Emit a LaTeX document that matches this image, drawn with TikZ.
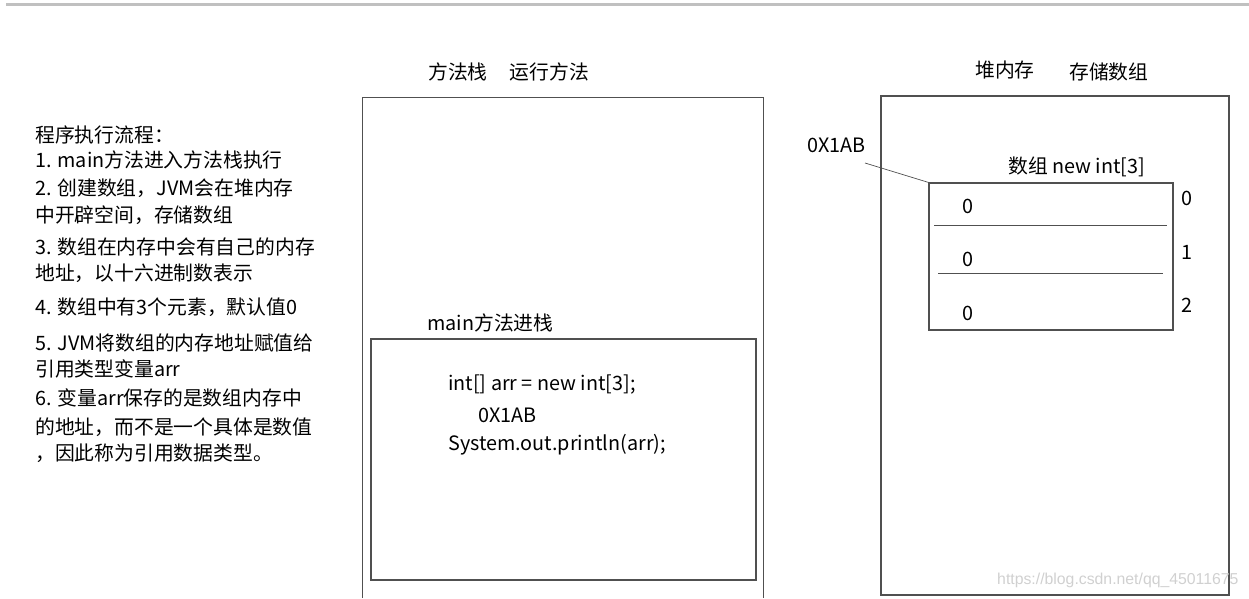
\documentclass[tikz,border=0pt]{standalone}
\usepackage{fontspec}
\setmainfont{Noto Sans CJK SC}
\newfontfamily\wmfont{Liberation Sans}
\usetikzlibrary{positioning}
\definecolor{boxline}{HTML}{505050}
\definecolor{topbar}{HTML}{C0C0C0}
\definecolor{wmgray}{HTML}{D0D0D0}

\begin{document}
\begin{tikzpicture}[x=1pt, y=-1pt, font=\fontsize{19.8}{23}\selectfont,
  box/.style={draw=boxline, line width=1.2pt, inner sep=0pt},
  txt/.style={inner sep=0pt, anchor=west}]
  \useasboundingbox (0,0) rectangle (1249,598);
  \draw[topbar, line width=2.5pt] (6,4.5) -- (1249,4.5);

  % flow text on the left
  \foreach \y/\t in {135/程序执行流程：, 160/1. main方法进入方法栈执行,
      188/2. 创建数组，JVM会在堆内存, 215/中开辟空间，存储数组,
      247/3. 数组在内存中会有自己的内存, 273/地址，以十六进制数表示,
      307/4. 数组中有3个元素，默认值0, 343/5. JVM将数组的内存地址赋值给,
      369/引用类型变量arr, 398/6. 变量arr保存的是数组内存中,
      427/的地址，而不是一个具体是数值, 453/，因此称为引用数据类型。}
    \node[txt] (flow\y) at (35,\y) {\t};

  % method stack
  \node[txt] (stacktitle) at (428,72) {方法栈\hspace{22pt}运行方法};
  \node[inner sep=0pt, minimum width=400pt, minimum height=500pt] (stack) at (563,348) {};
  \draw[boxline, line width=1.2pt] (stack.south west) |- (stack.north east) -- (stack.south east);
  \node[box, minimum width=385pt, minimum height=241pt] (frame) at (563.5,459.5) {};
  \node[txt] (framelabel) at (427,323) {main方法进栈};
  \node[txt] (code1) at (448,385) {int[] arr = new int[3];};
  \node[txt] (code2) at (478,415) {0X1AB};
  \node[txt] (code3) at (448,445) {System.out.println(arr);};

  % heap
  \node[txt] (heaptitle) at (975,70) {堆内存};
  \node[txt] (heapnote) at (1069,72) {存储数组};
  \node[box, minimum width=348pt, minimum height=499pt] (heap) at (1055,345.5) {};
  \node[txt] (addr) at (807,145) {0X1AB};
  \node[box, minimum width=244pt, minimum height=147pt] (arr) at (1051,256.5) {};
  \node[txt] (arrlabel) at (1008,167) {数组 new int[3]};
  \coordinate (addrtail) at (865,163);
  \draw[boxline, line width=0.7pt] (addrtail) -- (arr.north west);
  \draw[boxline, line width=0.9pt] (934,225) -- (1167,225);
  \draw[boxline, line width=0.9pt] (938,273) -- (1163,273);
  \node (val0) at (968,206) {0};
  \node (val1) at (968,259) {0};
  \node (val2) at (968,313) {0};
  \node (idx0) at (1187,198) {0};
  \node (idx1) at (1187,252) {1};
  \node (idx2) at (1187,305) {2};

  \node[txt, text=wmgray, font=\wmfont\fontsize{15.8}{17}\selectfont] (wm) at (997,580) {https://blog.csdn.net/qq\_45011675};
\end{tikzpicture}
\end{document}
